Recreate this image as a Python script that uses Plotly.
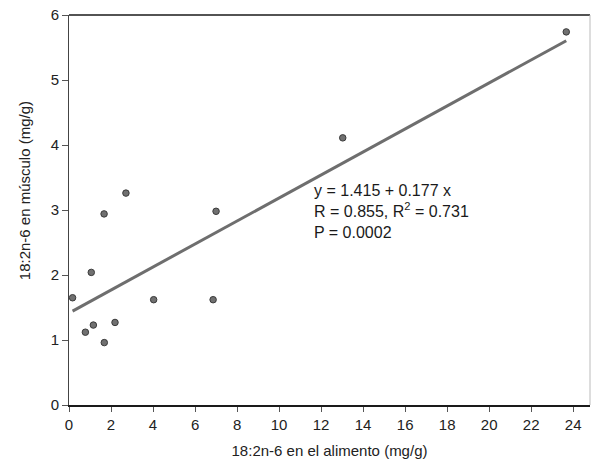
import plotly.graph_objects as go

# Data
x_food = [0.17, 0.78, 1.06, 1.16, 1.67, 1.68, 2.19, 2.71, 4.03, 6.86, 7.0, 13.03, 23.67]
y_muscle = [1.65, 1.12, 2.04, 1.23, 2.94, 0.96, 1.27, 3.26, 1.62, 1.62, 2.98, 4.11, 5.74]

intercept = 1.415
slope = 0.177
eq_lines = ["y = 1.415 + 0.177 x", "R = 0.855, R<sup>2</sup> = 0.731", "P = 0.0002"]

x_ticks = list(range(0, 25, 2))
y_ticks = list(range(0, 7))

x_title = "18:2n-6 en el alimento (mg/g)"
y_title = "18:2n-6 en músculo (mg/g)"

x_fit = [min(x_food), max(x_food)]
y_fit = [intercept + slope * v for v in x_fit]

FAM = "Liberation Sans, Arial"
font = dict(family=FAM, size=15, color="#222222")

fig = go.Figure()
fig.add_trace(go.Scatter(x=x_fit, y=y_fit, mode="lines",
                         line=dict(color="#6e6e6e", width=3), hoverinfo="skip"))
fig.add_trace(go.Scatter(x=x_food, y=y_muscle, mode="markers",
                         marker=dict(size=6.5, color="#707070",
                                     line=dict(color="#3a3a3a", width=1))))

fig.add_annotation(x=0.466, y=0.578, xref="paper", yref="paper",
                   text="<br>".join(eq_lines), showarrow=False,
                   xanchor="left", yanchor="top", align="left",
                   font=dict(family=FAM, size=16, color="#1a1a1a"))

# y-axis title (placed as in the reference, slightly above the plot centre)
fig.add_annotation(x=-0.085, y=0.55, xref="paper", yref="paper",
                   text=y_title, showarrow=False, textangle=-90,
                   xanchor="center", yanchor="middle", font=font)

fig.update_layout(
    width=592, height=464,
    margin=dict(l=69, r=2, t=15, b=59),
    paper_bgcolor="white", plot_bgcolor="white",
    showlegend=False,
    font=font,
    xaxis=dict(range=[0, 24.8], tickvals=x_ticks, showgrid=False, zeroline=False,
               automargin=False,
               showline=True, linecolor="#1a1a1a", linewidth=1.5,
               ticks="outside", ticklen=5, tickcolor="#555555",
               title=dict(text=x_title, standoff=14, font=font),
               tickfont=font),
    yaxis=dict(range=[0, 6], tickvals=y_ticks, showgrid=False, zeroline=False,
               automargin=False,
               showline=True, linecolor="#444444", linewidth=1,
               ticks="outside", ticklen=6, tickcolor="#555555",
               tickfont=font),
    shapes=[
        dict(type="line", xref="paper", yref="paper", x0=0, x1=1, y0=1, y1=1,
             line=dict(color="#1a1a1a", width=1.5)),
        dict(type="line", xref="paper", yref="paper", x0=1, x1=1, y0=0, y1=1,
             line=dict(color="#bbbbbb", width=1)),
    ],
)

fig.write_html("out.html", config={"displayModeBar": False},
               post_script="document.body.style.margin='0';document.body.style.overflow='hidden';")
